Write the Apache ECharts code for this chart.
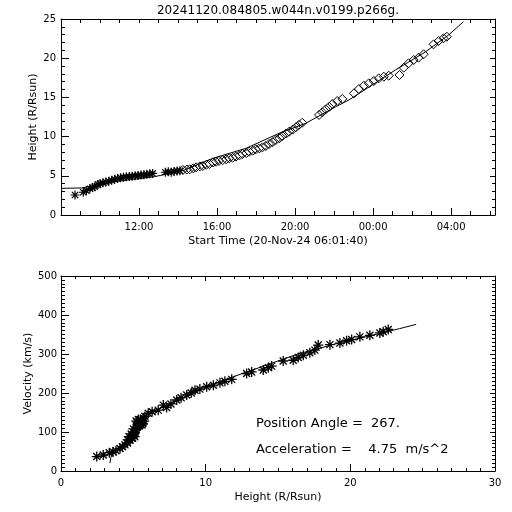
<!DOCTYPE html>
<html>
<head>
<meta charset="utf-8">
<script src="https://cdn.jsdelivr.net/npm/echarts@6/dist/echarts.min.js"></script>
<style>html,body{margin:0;padding:0;background:#fff;}#c{width:512px;height:512px;}</style>
</head>
<body>
<div id="c"></div>
<script>
// ---- Data (hours since 20-Nov-24 00:00; >24 = next day) ----
const titleText = '20241120.084805.w044n.v0199.p266g.';
const starTime   = [8.72, 9.14, 9.3, 9.48, 9.62, 9.72, 9.9, 10.0, 10.15, 10.3, 10.45, 10.6, 10.75, 10.9, 11.05, 11.2, 11.35, 11.5, 11.65, 11.8, 11.95, 12.1, 12.25, 12.4, 12.55, 12.7, 13.35, 13.5, 13.65, 13.8, 13.95, 14.1];
const starHeight = [2.55, 2.9, 3.1, 3.35, 3.5, 3.6, 3.9, 4.0, 4.1, 4.2, 4.3, 4.42, 4.55, 4.65, 4.75, 4.8, 4.88, 4.9, 4.95, 5.0, 5.05, 5.1, 5.12, 5.2, 5.25, 5.3, 5.45, 5.52, 5.45, 5.55, 5.62, 5.65];
const diamondTime   = [14.25, 14.45, 14.6, 14.78, 14.93, 15.12, 15.27, 15.45, 15.61, 15.8, 15.95, 16.1, 16.29, 16.47, 16.63, 16.8, 16.97, 17.15, 17.31, 17.5, 17.65, 17.83, 17.99, 18.17, 18.33, 18.5, 18.67, 18.85, 19.02, 19.2, 19.35, 19.55, 19.7, 19.88, 20.04, 20.2, 20.37, 21.23, 21.4, 21.57, 21.75, 21.91, 22.16, 22.42, 23.02, 23.27, 23.53, 23.78, 24.04, 24.29, 24.55, 24.8, 25.35, 25.57, 25.82, 26.08, 26.33, 26.59, 27.1, 27.36, 27.61, 27.78];
const diamondHeight = [5.74, 5.8, 5.83, 5.95, 6.08, 6.2, 6.25, 6.4, 6.5, 6.7, 6.8, 6.9, 7.0, 7.1, 7.23, 7.3, 7.44, 7.6, 7.78, 7.9, 8.07, 8.2, 8.38, 8.5, 8.63, 8.8, 9.06, 9.3, 9.57, 9.8, 10.08, 10.4, 10.63, 10.9, 11.19, 11.5, 11.77, 12.76, 13.1, 13.48, 13.8, 14.16, 14.54, 14.8, 15.52, 16.07, 16.49, 16.8, 17.09, 17.43, 17.64, 17.77, 17.86, 18.79, 19.35, 19.77, 20.06, 20.5, 21.77, 22.19, 22.54, 22.74];
const fitTime   = [8.0, 9.07, 10.5, 12.8, 14.33, 15.78, 17.48, 19.18, 20.55, 22.08, 22.76, 23.95, 25.15, 26.68, 27.87, 28.63];
const fitHeight = [3.4, 3.45, 4.17, 4.89, 5.74, 7.23, 8.5, 10.42, 11.7, 13.8, 14.67, 16.58, 18.5, 20.8, 22.96, 24.65];

const velHeight = [2.47, 2.92, 3.34, 3.6, 3.8, 4.08, 4.25, 4.42, 4.6, 4.6, 4.7, 4.77, 4.85, 4.9, 4.95, 5.0, 5.0, 5.05, 5.08, 5.1, 5.12, 5.18, 5.2, 5.25, 5.3, 5.3, 5.34, 5.35, 5.4, 5.45, 5.46, 5.5, 5.52, 5.55, 5.58, 5.6, 5.6, 5.65, 5.69, 5.75, 5.8, 6.03, 6.3, 6.72, 7.07, 7.3, 7.6, 8.0, 8.3, 8.69, 9.0, 9.26, 9.6, 10.07, 10.53, 10.99, 11.33, 11.8, 12.83, 13.18, 13.98, 14.33, 14.56, 15.36, 16.05, 16.4, 16.75, 17.2, 17.55, 17.78, 18.59, 19.28, 19.74, 20.09, 20.66, 21.35, 22.04, 22.27, 22.62];
const velValue  = [37, 41, 47, 49, 52, 58, 62, 67, 72, 80, 88, 79, 95, 86, 84, 92, 108, 95, 98, 88, 100, 105, 128, 112, 115, 125, 118, 132, 122, 118, 126, 132, 120, 125, 130, 118, 128, 122, 135, 128, 140, 148, 152, 156, 169, 163, 172, 182, 188, 195, 200, 207, 210, 216, 220, 226, 230, 235, 250, 254, 259, 265, 269, 282, 284, 291, 297, 303, 310, 323, 324, 328, 334, 337, 344, 348, 354, 357, 363];
const velFitHeight = [3.38, 3.45, 3.6, 4.0, 4.5, 4.9, 5.2, 5.45, 5.75, 6.2, 7.0, 8.0, 9.0, 9.58, 10.5, 11.86, 14.16, 16.45, 17.83, 18.75, 21.04, 23.4, 24.55];
const velFitValue  = [20, 35, 47, 56, 66, 80, 100, 122, 138, 150, 163, 180, 197, 210, 222, 241, 271, 301, 314, 324, 344, 365, 376];

const timeTickHours = [12, 16, 20, 24, 28];
const annotLine1 = 'Position Angle =  267.';
const annotLine2 = 'Acceleration =    4.75  m/s^2';

// ---- Build ----
const zip = (a, b) => a.map((v, i) => [v, b[i]]);
const FONT = 'DejaVu Sans';
const BLK = '#000';
const asterisk = 'path://M5 0L5 10M0 5L10 5M1.5 1.5L8.5 8.5M8.5 1.5L1.5 8.5';
const lbl = (extra) => Object.assign({color: BLK, fontFamily: FONT, fontSize: 10}, extra || {});
const fmtTime = v => {
  if (timeTickHours.indexOf(v) < 0) return '';
  const h = ((v % 24) + 24) % 24;
  return (h < 10 ? '0' : '') + h + ':00';
};

const chart = echarts.init(document.getElementById('c'), null, {renderer: 'canvas'});
chart.setOption({
  animation: false,
  backgroundColor: '#fff',
  grid: [
    {left: 61, top: 19, width: 434, height: 196},
    {left: 61, top: 276, width: 434, height: 195}
  ],
  xAxis: [
    {gridIndex: 0, type: 'value', position: 'bottom', min: 8, max: 30.25, interval: 4,
     axisLine: {onZero: false, lineStyle: {color: BLK, width: 1}},
     axisTick: {inside: true, length: 7, lineStyle: {color: BLK}},
     axisLabel: lbl({formatter: fmtTime, margin: 7, showMinLabel: false, showMaxLabel: false}),
     splitLine: {show: false},
     name: 'Start Time (20-Nov-24 06:01:40)', nameLocation: 'middle', nameGap: 21, nameMoveOverlap: false,
     nameTextStyle: {color: BLK, fontFamily: FONT, fontSize: 11}},
    {gridIndex: 0, type: 'value', position: 'bottom', min: 8, max: 30.25, interval: 1,
     axisLine: {show: false, onZero: false},
     axisTick: {inside: true, length: 4, lineStyle: {color: BLK}},
     axisLabel: {show: false}, splitLine: {show: false}},
    {gridIndex: 0, type: 'value', position: 'top', min: 8, max: 30.25, interval: 1,
     axisLine: {onZero: false, lineStyle: {color: BLK, width: 1}},
     axisTick: {inside: true, length: 4, lineStyle: {color: BLK}},
     axisLabel: {show: false}, splitLine: {show: false}},
    {gridIndex: 1, type: 'value', position: 'bottom', min: 0, max: 30, interval: 10,
     axisLine: {onZero: false, lineStyle: {color: BLK, width: 1}},
     axisTick: {inside: true, length: 7, lineStyle: {color: BLK}},
     minorTick: {show: true, splitNumber: 10, length: 3, lineStyle: {color: BLK}},
     axisLabel: lbl({margin: 7}),
     splitLine: {show: false}, minorSplitLine: {show: false},
     name: 'Height (R/Rsun)', nameLocation: 'middle', nameGap: 21, nameMoveOverlap: false,
     nameTextStyle: {color: BLK, fontFamily: FONT, fontSize: 11}},
    {gridIndex: 1, type: 'value', position: 'top', min: 0, max: 30, interval: 10,
     axisLine: {onZero: false, lineStyle: {color: BLK, width: 1}},
     axisTick: {inside: true, length: 5, lineStyle: {color: BLK}},
     minorTick: {show: true, splitNumber: 10, length: 3, lineStyle: {color: BLK}},
     axisLabel: {show: false}, splitLine: {show: false}}
  ],
  yAxis: [
    {gridIndex: 0, type: 'value', position: 'left', min: 0, max: 25, interval: 5,
     axisLine: {onZero: false, lineStyle: {color: BLK, width: 1}},
     axisTick: {inside: true, length: 8, lineStyle: {color: BLK}},
     minorTick: {show: true, splitNumber: 5, length: 4, lineStyle: {color: BLK}},
     axisLabel: lbl({margin: 5}),
     splitLine: {show: false},
     name: 'Height (R/Rsun)', nameLocation: 'middle', nameGap: 22, nameMoveOverlap: false,
     nameTextStyle: {color: BLK, fontFamily: FONT, fontSize: 11}},
    {gridIndex: 0, type: 'value', position: 'right', min: 0, max: 25, interval: 5,
     axisLine: {onZero: false, lineStyle: {color: BLK, width: 1}},
     axisTick: {inside: true, length: 5, lineStyle: {color: BLK}},
     minorTick: {show: true, splitNumber: 5, length: 3, lineStyle: {color: BLK}},
     axisLabel: {show: false}, splitLine: {show: false}},
    {gridIndex: 1, type: 'value', position: 'left', min: 0, max: 500, interval: 100,
     axisLine: {onZero: false, lineStyle: {color: BLK, width: 1}},
     axisTick: {inside: true, length: 8, lineStyle: {color: BLK}},
     minorTick: {show: true, splitNumber: 10, length: 4, lineStyle: {color: BLK}},
     axisLabel: lbl({margin: 4}),
     splitLine: {show: false},
     name: 'Velocity (km/s)', nameLocation: 'middle', nameGap: 27, nameMoveOverlap: false,
     nameTextStyle: {color: BLK, fontFamily: FONT, fontSize: 11}},
    {gridIndex: 1, type: 'value', position: 'right', min: 0, max: 500, interval: 100,
     axisLine: {onZero: false, lineStyle: {color: BLK, width: 1}},
     axisTick: {inside: true, length: 5, lineStyle: {color: BLK}},
     minorTick: {show: true, splitNumber: 10, length: 3, lineStyle: {color: BLK}},
     axisLabel: {show: false}, splitLine: {show: false}}
  ],
  series: [
    {type: 'line', xAxisIndex: 0, yAxisIndex: 0, data: zip(fitTime, fitHeight),
     symbol: 'none', lineStyle: {color: BLK, width: 1}, silent: true, z: 2},
    {type: 'scatter', xAxisIndex: 0, yAxisIndex: 0, data: zip(starTime, starHeight),
     symbol: asterisk, symbolSize: 9,
     itemStyle: {color: BLK, borderColor: BLK, borderWidth: 1.2, opacity: 1}, silent: true, z: 3},
    {type: 'scatter', xAxisIndex: 0, yAxisIndex: 0, data: zip(diamondTime, diamondHeight),
     symbol: 'diamond', symbolSize: [9, 9],
     itemStyle: {color: 'rgba(0,0,0,0)', borderColor: BLK, borderWidth: 1, opacity: 1}, silent: true, z: 3},
    {type: 'line', xAxisIndex: 3, yAxisIndex: 2, data: zip(velFitHeight, velFitValue),
     symbol: 'none', lineStyle: {color: BLK, width: 1}, silent: true, z: 2},
    {type: 'scatter', xAxisIndex: 3, yAxisIndex: 2, data: zip(velHeight, velValue),
     symbol: asterisk, symbolSize: 10,
     itemStyle: {color: BLK, borderColor: BLK, borderWidth: 1.3, opacity: 1}, silent: true, z: 3}
  ],
  graphic: [
    {type: 'text', x: 278, y: 11, style: {text: titleText, fill: BLK, font: '12px "DejaVu Sans"', textAlign: 'center', textVerticalAlign: 'middle'}},
    {type: 'text', x: 256, y: 424, style: {text: annotLine1, fill: BLK, font: '13px "DejaVu Sans"', textAlign: 'left', textVerticalAlign: 'middle'}},
    {type: 'text', x: 256, y: 450, style: {text: annotLine2, fill: BLK, font: '13px "DejaVu Sans"', textAlign: 'left', textVerticalAlign: 'middle'}}
  ]
});
</script>
</body>
</html>
